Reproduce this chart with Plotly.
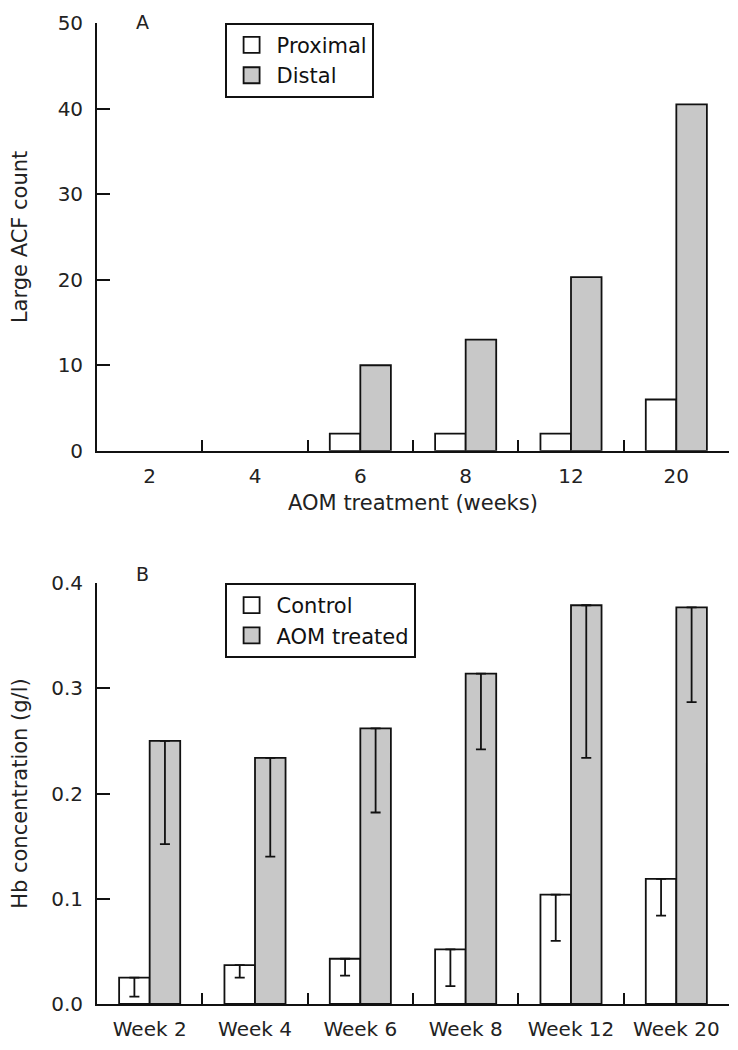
import plotly.graph_objects as go

# Panel A: large ACF counts
semanas_a = ["2", "4", "6", "8", "12", "20"]
proximal = [0, 0, 2, 2, 2, 6]
distal = [0, 0, 10, 13, 20.3, 40.5]

# Panel B: Hb concentration (g/l), error bars drawn below the bar only
semanas_b = ["Week 2", "Week 4", "Week 6", "Week 8", "Week 12", "Week 20"]
control = [0.025, 0.037, 0.043, 0.052, 0.104, 0.119]
control_err = [0.018, 0.012, 0.016, 0.035, 0.044, 0.035]
aom = [0.250, 0.234, 0.262, 0.314, 0.379, 0.377]
aom_err = [0.098, 0.094, 0.080, 0.072, 0.145, 0.090]

FUENTE = "DejaVu Sans"
NEGRO = "#111111"
GRIS = "#c8c8c8"
LW = 1.8


def borde(valores):
    # sin contorno para las barras de altura cero
    return dict(color=NEGRO, width=[LW if v > 0 else 0 for v in valores])


fig = go.Figure()

# Barras panel A
fig.add_trace(go.Bar(x=semanas_a, y=proximal, name="Proximal", showlegend=False,
                     marker=dict(color="white", line=borde(proximal)),
                     xaxis="x", yaxis="y"))
fig.add_trace(go.Bar(x=semanas_a, y=distal, name="Distal", showlegend=False,
                     marker=dict(color=GRIS, line=borde(distal)),
                     xaxis="x", yaxis="y"))

# Barras panel B
fig.add_trace(go.Bar(x=semanas_b, y=control, name="Control", showlegend=False,
                     marker=dict(color="white", line=borde(control)),
                     error_y=dict(type="data", symmetric=False, array=[0] * len(control),
                                  arrayminus=control_err, color=NEGRO, thickness=LW, width=5),
                     xaxis="x2", yaxis="y2"))
fig.add_trace(go.Bar(x=semanas_b, y=aom, name="AOM treated", showlegend=False,
                     marker=dict(color=GRIS, line=borde(aom)),
                     error_y=dict(type="data", symmetric=False, array=[0] * len(aom),
                                  arrayminus=aom_err, color=NEGRO, thickness=LW, width=5),
                     xaxis="x2", yaxis="y2"))

# Entradas de leyenda (cuadros más grandes que el icono de barra por defecto)
for nombre, color, leyenda, ejes in [
    ("Proximal", "white", "legend", ("x", "y")),
    ("Distal", GRIS, "legend", ("x", "y")),
    ("Control", "white", "legend2", ("x2", "y2")),
    ("AOM treated", GRIS, "legend2", ("x2", "y2")),
]:
    fig.add_trace(go.Scatter(x=[None], y=[None], mode="markers", name=nombre,
                             marker=dict(symbol="square", size=16, color=color,
                                         line=dict(color=NEGRO, width=LW)),
                             legend=leyenda, xaxis=ejes[0], yaxis=ejes[1]))

eje_x = dict(type="category", showline=True, linecolor=NEGRO, linewidth=LW,
             ticks="inside", tickson="boundaries", ticklen=11, tickwidth=LW,
             tickcolor=NEGRO, showgrid=False, zeroline=False, range=[-0.5, 5.5],
             tickfont=dict(size=20, color="#222"), ticklabelstandoff=6)
eje_y = dict(showline=True, linecolor=NEGRO, linewidth=LW, ticks="inside",
             ticklen=13, tickwidth=LW, tickcolor=NEGRO, showgrid=False,
             zeroline=False, tickfont=dict(size=20, color="#222"),
             ticklabelstandoff=8, automargin=False)

caja_leyenda = dict(x=0.2022, xanchor="left", yanchor="top", bgcolor="white",
                    bordercolor=NEGRO, borderwidth=LW, itemwidth=40,
                    font=dict(size=21, family=FUENTE, color="#111"))

# la página añade 8 px de margen al body: la figura se ajusta a ello
fig.update_layout(
    width=722,
    height=1034,
    margin=dict(l=89, r=1, t=15, b=33),
    plot_bgcolor="white",
    paper_bgcolor="white",
    font=dict(family=FUENTE, color="#222"),
    barmode="group",
    bargap=0.42,
    bargroupgap=0,
    xaxis=dict(eje_x, anchor="y",
               title=dict(text="AOM treatment (weeks)", font=dict(size=21), standoff=9)),
    yaxis=dict(eje_y, anchor="x", domain=[0.5639, 1.0], range=[0, 50], dtick=10,
               title=dict(text="Large ACF count", font=dict(size=21), standoff=26)),
    xaxis2=dict(eje_x, anchor="y2"),
    yaxis2=dict(eje_y, anchor="x2", domain=[0, 0.429], range=[0, 0.4], dtick=0.1,
                tickformat=".1f",
                title=dict(text="Hb concentration (g/l)", font=dict(size=21), standoff=18)),
    legend=dict(caja_leyenda, y=1.0),
    legend2=dict(caja_leyenda, y=0.429),
    annotations=[
        dict(text="A", x=0.0727, y=1.0326, xref="x domain", yref="y domain",
             showarrow=False, font=dict(size=19, color="#222"), xanchor="center", yanchor="top"),
        dict(text="B", x=0.0727, y=1.021, xref="x2 domain", yref="y2 domain",
             showarrow=False, font=dict(size=19, color="#222"), xanchor="center", yanchor="middle"),
    ],
)

fig.write_html("out.html")
